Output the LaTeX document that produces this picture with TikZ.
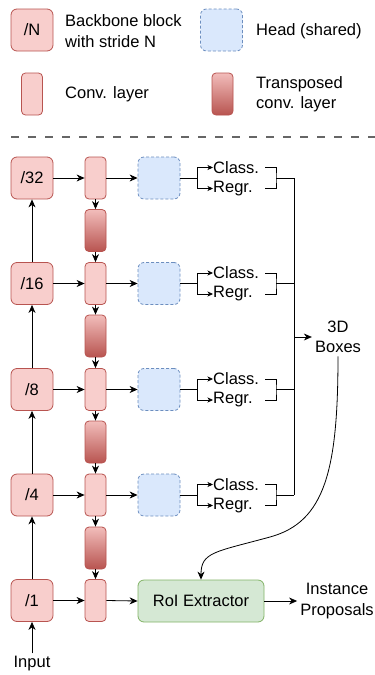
\documentclass[tikz,border=0pt]{standalone}
\usepackage{fontspec}
\setmainfont{Liberation Sans}
\usetikzlibrary{arrows.meta}

\definecolor{bbfill}{HTML}{F8CECC}
\definecolor{bbdraw}{HTML}{B85450}
\definecolor{tctop}{HTML}{F2BDBB}
\definecolor{tcbot}{HTML}{B85450}
\definecolor{hdfill}{HTML}{DAE8FC}
\definecolor{hddraw}{HTML}{6C8EBF}
\definecolor{gfill}{HTML}{D5E8D4}
\definecolor{gdraw}{HTML}{82B366}
\definecolor{sepgray}{HTML}{666666}

\begin{document}
\begin{tikzpicture}[x=1pt,y=-1pt,
  font=\fontsize{16.5}{20.5}\selectfont,
  bb/.style={draw=bbdraw, fill=bbfill, line width=0.8pt, rounded corners=6pt,
    minimum width=42pt, minimum height=42pt, inner sep=0pt},
  cv/.style={draw=bbdraw, fill=bbfill, line width=0.8pt, rounded corners=4pt,
    minimum width=21pt, minimum height=42pt, inner sep=0pt},
  tcv/.style={cv, top color=tctop, bottom color=tcbot},
  head/.style={draw=hddraw, fill=hdfill, line width=0.8pt, dash pattern=on 3pt off 2pt,
    rounded corners=6pt, minimum width=42pt, minimum height=42pt, inner sep=0pt},
  roi/.style={draw=gdraw, fill=gfill, line width=0.8pt, rounded corners=6pt,
    minimum width=126pt, minimum height=42pt, inner sep=0pt},
  lbl/.style={inner sep=0pt, align=left},
  arr/.style={line width=0.8pt, -{Stealth[length=8pt,width=7pt,inset=2.5pt]}},
  sarr/.style={line width=0.8pt, -{Stealth[length=5.5pt,width=5pt,inset=1.5pt]}},
  ln/.style={line width=0.8pt},
  sep/.style={draw=sepgray, line width=1.5pt, dash pattern=on 8pt off 9pt}
]
\useasboundingbox (0,0) rectangle (375,675);

% ---------- legend ----------
\node[bb] (lgbb) at (32,30) {/N};
\node[lbl, anchor=west] (lgbbt) at (65,31) {Backbone block\\with stride N};
\node[head] (lghd) at (221.5,30) {};
\node[lbl, anchor=west] (lghdt) at (256,31) {Head (shared)};
\node[cv] (lgcv) at (32,94) {};
\node[lbl, anchor=west] (lgcvt) at (65,94) {Conv. layer};
\node[tcv] (lgtc) at (222.5,94) {};
\node[lbl, anchor=west] (lgtct) at (256,94) {Transposed\\conv. layer};

\coordinate (sepl) at (11,137);
\coordinate (sepr) at (375,137);
\draw[sep] (sepl) -- (sepr);

% ---------- backbone, conv column, heads ----------
\foreach \n/\y in {32/178, 16/283.5, 8/389.5, 4/495, 1/600.5} {
  \node[bb] (b\n) at (32,\y) {/\n};
  \node[cv] (c\n) at (95.5,\y) {};
  \draw[arr] (b\n.east) -- (c\n.west);
}
\foreach \n/\y in {32/178, 16/283.5, 8/389.5, 4/495} {
  \node[head] (h\n) at (159,\y) {};
  \draw[arr] (c\n.east) -- (h\n.west);
  % split into classification / regression
  \coordinate (s\n) at (197,\y);
  \draw[ln] (h\n.east) -- (s\n);
  \node[lbl, anchor=west] (cl\n) at (213,\y-10.5) {Class.};
  \node[lbl, anchor=west] (rg\n) at (213,\y+10.5) {Regr.};
  \draw[sarr] (s\n) |- (cl\n.west);
  \draw[sarr] (s\n) |- (rg\n.west);
  % bracket collecting both outputs
  \coordinate (ka\n) at (265,\y-10.5);
  \coordinate (kb\n) at (265,\y+10.5);
  \coordinate (km\n) at (276,\y);
  \coordinate (kj\n) at (294,\y);
  \draw[ln] (ka\n) -| (km\n) |- (kb\n);
  \draw[ln] (km\n) -- (kj\n);
}

% transposed conv layers between the conv rows
\foreach \a/\b/\y in {32/16/230.5, 16/8/336, 8/4/442, 4/1/548} {
  \node[tcv] (t\a) at (95.5,\y) {};
  \draw[arr] (c\a.south) -- (t\a.north);
  \draw[arr] (t\a.south) -- (c\b.north);
}

% backbone upward path
\draw[arr] (b16.north) -- (b32.south);
\draw[arr] (b8.north) -- (b16.south);
\draw[arr] (b4.north) -- (b8.south);
\draw[arr] (b1.north) -- (b4.south);

\node[lbl, inner sep=3pt] (inp) at (32,664) {Input};
\draw[arr] (inp.north) -- (b1.south);

% ---------- 3D boxes and RoI extraction ----------
\draw[ln] (kj32) -- (kj4);
\node[lbl, align=center, inner sep=3pt] (boxes) at (338,337) {3D\\Boxes};
\coordinate (bj) at (294,337);
\draw[arr] (bj) -- (boxes.west);

\node[roi] (roi) at (201,601) {RoI Extractor};
\draw[arr] (c1.east) -- (roi.west);

\node[lbl, align=center, inner sep=3pt] (inst) at (337,601) {Instance\\Proposals};
\draw[arr] (roi.east) -- (inst.west);

\draw[arr] (boxes.south) .. controls (338,470) and (325,522) .. (270,537)
  .. controls (215,552) and (201,552) .. (roi.north);
\end{tikzpicture}
\end{document}
